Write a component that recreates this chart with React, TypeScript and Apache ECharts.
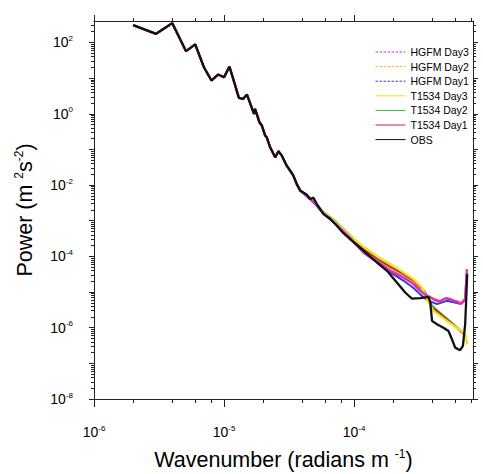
import React, { useEffect, useRef } from "react";
import * as echarts from "echarts";

// ---- data (wavenumber in radians/m, power in m^2 s^-2) ----
// large-scale part where all curves coincide with OBS
const sharedK = [2.0e-6, 3.0e-6, 4.0e-6, 5.1e-6, 6.0e-6, 7.0e-6, 8.0e-6, 9.0e-6, 1.0e-5, 1.1e-5, 1.3e-5, 1.4e-5, 1.5e-5, 1.7e-5, 1.73e-5, 1.87e-5, 1.95e-5, 2.07e-5, 2.13e-5, 2.26e-5, 2.47e-5, 2.62e-5, 2.78e-5, 3.03e-5, 3.22e-5, 3.41e-5, 3.62e-5, 3.85e-5];
const sharedP = [306, 175, 348, 57, 88, 20.2, 8.6, 12.6, 10.6, 21.2, 2.8, 2.6, 3.46, 0.99, 1.37, 0.58, 0.47, 0.244, 0.219, 0.115, 0.06, 0.0885, 0.067, 0.035, 0.0254, 0.0184, 0.0107, 0.007];

const obsK = [4.33e-5, 4.59e-5, 4.87e-5, 5.17e-5, 5.81e-5, 6.54e-5, 7.36e-5, 8.28e-5, 9.31e-5, 1.18e-4, 1.5e-4, 1.79e-4, 2.13e-4, 2.47e-4, 2.78e-4, 3.22e-4, 3.73e-4, 3.85e-4, 3.97e-4, 4.33e-4, 4.86e-4, 5.31e-4, 5.65e-4, 5.98e-4, 6.53e-4, 6.86e-4, 7.14e-4, 7.28e-4, 7.4e-4];
const obsP = [5.37e-3, 4.07e-3, 4.43e-3, 2.94e-3, 1.54e-3, 1.14e-3, 7.24e-4, 4.46e-4, 3.06e-4, 1.44e-4, 6.74e-5, 3.94e-5, 1.85e-5, 9.7e-6, 6.57e-6, 6.74e-6, 7.33e-6, 5.07e-6, 1.55e-6, 1.25e-6, 1.0e-6, 8.1e-7, 4.75e-7, 2.76e-7, 2.33e-7, 3.08e-7, 1.25e-6, 7.0e-6, 3.18e-5];

const t1534d3K = [4.87e-5, 5.81e-5, 7.36e-5, 9.31e-5, 1.18e-4, 1.58e-4, 2.13e-4, 2.86e-4, 3.32e-4, 3.62e-4, 4.07e-4, 5.16e-4, 6.53e-4, 7.14e-4, 7.4e-4];
const t1534d3P = [3.65e-3, 1.71e-3, 8.4e-4, 3.79e-4, 1.86e-4, 8.95e-5, 4.69e-5, 2.3e-5, 1.34e-5, 6.3e-6, 2.97e-6, 1.55e-6, 8.5e-7, 6.6e-7, 3.44e-7];

const t1534d1K = [4.87e-5, 5.81e-5, 7.36e-5, 9.31e-5, 1.18e-4, 1.5e-4, 1.89e-4, 2.39e-4, 3.03e-4, 3.51e-4, 3.97e-4, 5.16e-4, 6.93e-4, 7.2e-4];
const t1534d1P = [3.5e-3, 1.66e-3, 8.0e-4, 3.44e-4, 1.56e-4, 8.4e-5, 5.1e-5, 3.18e-5, 1.67e-5, 9.1e-6, 3.67e-6, 1.73e-6, 6.8e-7, 6.4e-7];

const t1534d2K = [4.87e-5, 5.81e-5, 7.36e-5, 9.31e-5, 1.18e-4, 1.5e-4, 1.89e-4, 2.39e-4, 3.03e-4, 3.51e-4, 3.97e-4, 5.16e-4, 6.93e-4, 7.2e-4];
const t1534d2P = [3.6e-3, 1.77e-3, 9.0e-4, 3.9e-4, 1.68e-4, 8.6e-5, 5.25e-5, 3.3e-5, 1.8e-5, 1.0e-5, 4.1e-6, 1.8e-6, 7.1e-7, 6.6e-7];

const hgfmd3K = [4.87e-5, 5.81e-5, 7.36e-5, 9.31e-5, 1.18e-4, 1.5e-4, 1.89e-4, 2.39e-4, 2.86e-4, 3.22e-4, 3.62e-4, 3.85e-4, 4.07e-4, 4.33e-4, 4.59e-4, 4.86e-4, 5.16e-4, 5.48e-4, 5.81e-4, 6.16e-4, 6.53e-4, 6.72e-4, 7.14e-4, 7.36e-4];
const hgfmd3P = [3.4e-3, 1.6e-3, 7.6e-4, 3.3e-4, 1.29e-4, 7.2e-5, 3.94e-5, 2.55e-5, 1.67e-5, 1.08e-5, 7.8e-6, 7.0e-6, 6.3e-6, 5.66e-6, 5.4e-6, 6.3e-6, 6.6e-6, 6.3e-6, 5.66e-6, 5.4e-6, 4.75e-6, 4.75e-6, 6.3e-6, 4.4e-5];

const hgfmd2K = [4.87e-5, 5.81e-5, 7.36e-5, 9.31e-5, 1.18e-4, 1.5e-4, 1.89e-4, 2.39e-4, 2.86e-4, 3.22e-4, 3.62e-4, 4.07e-4, 4.59e-4, 5.16e-4, 5.81e-4, 6.53e-4, 7.14e-4, 7.33e-4];
const hgfmd2P = [3.5e-3, 1.65e-3, 7.9e-4, 3.4e-4, 1.35e-4, 7.5e-5, 4.3e-5, 2.75e-5, 1.8e-5, 1.17e-5, 8.3e-6, 6.6e-6, 5.8e-6, 6.8e-6, 6.0e-6, 5.1e-6, 6.6e-6, 3.5e-5];

const hgfmd1K = [4.87e-5, 5.81e-5, 7.36e-5, 9.31e-5, 1.18e-4, 1.5e-4, 1.89e-4, 2.39e-4, 2.86e-4, 3.22e-4, 3.62e-4, 4.33e-4, 5.16e-4, 5.81e-4, 6.53e-4, 7.14e-4, 7.3e-4];
const hgfmd1P = [3.3e-3, 1.58e-3, 7.5e-4, 3.2e-4, 1.27e-4, 6.8e-5, 3.6e-5, 2.1e-5, 1.3e-5, 8.6e-6, 6.0e-6, 4.57e-6, 5.66e-6, 5.2e-6, 4.7e-6, 6.0e-6, 2.8e-5];

const legendOrder = ["HGFM Day3", "HGFM Day2", "HGFM Day1", "T1534 Day3", "T1534 Day2", "T1534 Day1", "OBS"];
const legendDashed = [true, true, true, false, false, false, false];

// axis ranges and tick values (exponents of 10)
const X_MIN = 1e-6;
const X_MAX = 8.2e-4;
const Y_MIN = 1e-8;
const Y_MAX = 400;
const xLabelExps = [-6, -5, -4];
const xMinorMult = [2, 4, 6, 8];
const yLabelExps = [2, 0, -2, -4, -6, -8];
const yDecadeExps = [2, 1, 0, -1, -2, -3, -4, -5, -6, -7, -8];
const yMinorMult = [2, 3, 4, 5, 6, 7, 8, 9];

const FONT = "Liberation Sans";

export default function App() {
  const ref = useRef<HTMLDivElement>(null);

  useEffect(() => {
    if (!ref.current) return;
    const chart = echarts.init(ref.current, undefined, { renderer: "svg" });

    const xLo = Math.log10(X_MIN);
    const xHi = Math.log10(X_MAX);
    const yLo = Math.log10(Y_MIN);
    const yHi = Math.log10(Y_MAX);

    const xMinor: number[] = [];
    for (let d = -6; d <= -4; d++) {
      xMinorMult.forEach((m) => {
        const v = d + Math.log10(m);
        if (v > xLo && v < xHi) xMinor.push(v);
      });
    }
    const yMinor: number[] = [];
    for (let d = -8; d <= 2; d++) {
      yMinorMult.forEach((m) => {
        const v = d + Math.log10(m);
        if (v > yLo && v < yHi) yMinor.push(v);
      });
    }

    const supRich = {
      b: { fontSize: 14, lineHeight: 16, fontFamily: FONT, color: "#000" },
      s: { fontSize: 8, lineHeight: 8, verticalAlign: "top", fontFamily: FONT, color: "#000" },
    };
    const nameRich = {
      b: { fontSize: 21.5, lineHeight: 24, fontFamily: FONT, color: "#000" },
      s: { fontSize: 12, lineHeight: 12, verticalAlign: "top", fontFamily: FONT, color: "#000" },
    };
    const fmt = (v: number) => `{b|10}{s|${Math.round(v)}}`;

    const frame = { show: true, onZero: false, lineStyle: { color: "#222", width: 1 } };
    const noLine = { show: false, onZero: false };
    const tickStyle = { color: "#222", width: 1 };

    const tickAxis = (
      pos: string,
      lo: number,
      hi: number,
      ticks: number[],
      len: number,
      labels?: number[],
      margin?: number
    ) => ({
      type: "value",
      position: pos,
      min: lo,
      max: hi,
      axisLine: noLine,
      splitLine: { show: false },
      axisTick: { show: true, inside: false, length: len, customValues: ticks, lineStyle: tickStyle },
      axisLabel: labels
        ? { show: true, customValues: labels, formatter: fmt, rich: supRich, margin: margin }
        : { show: false },
      silent: true,
    });

    const mk = (k1: number[], p1: number[], k2: number[], p2: number[]) =>
      k1.map((k, i) => [k, p1[i]]).concat(k2.map((k, i) => [k, p2[i]]));

    const line = (name: string, data: number[][], color: string, width: number) => ({
      name,
      type: "line",
      xAxisIndex: 0,
      yAxisIndex: 0,
      data,
      symbol: "none",
      showSymbol: false,
      lineStyle: { color, width, type: "solid" },
      itemStyle: { color },
      emphasis: { disabled: true },
    });

    const option = {
      animation: false,
      backgroundColor: "#ffffff",
      grid: { left: 94, top: 21, width: 379, height: 378, containLabel: false, outerBoundsMode: "none" },
      legend: {
        data: legendOrder.map((name, i) => ({
          name,
          lineStyle: { width: 1, type: legendDashed[i] ? [2.5, 1.5] : "solid" },
        })),
        orient: "vertical",
        left: 370,
        top: 41,
        itemWidth: 30,
        itemHeight: 10,
        itemGap: 2.6,
        textStyle: { fontSize: 10.5, fontFamily: FONT, color: "#000", lineHeight: 12 },
        lineStyle: { width: 1 },
        itemStyle: { opacity: 0 },
        selectedMode: false,
      },
      xAxis: [
        {
          type: "log",
          logBase: 10,
          min: X_MIN,
          max: X_MAX,
          position: "bottom",
          axisLine: frame,
          axisTick: { show: false },
          axisLabel: { show: false },
          splitLine: { show: false },
          name: "{b|Wavenumber (radians m }{s|-1}{b|)}",
          nameLocation: "middle",
          nameGap: 49,
          nameTextStyle: { rich: nameRich },
        },
        tickAxis("bottom", xLo, xHi, xLabelExps, 8, xLabelExps, 25),
        tickAxis("bottom", xLo, xHi, xMinor, 4),
        { ...tickAxis("top", xLo, xHi, xLabelExps, 6), axisLine: frame },
        tickAxis("top", xLo, xHi, xMinor, 3),
      ],
      yAxis: [
        {
          type: "log",
          logBase: 10,
          min: Y_MIN,
          max: Y_MAX,
          position: "left",
          axisLine: frame,
          axisTick: { show: false },
          axisLabel: { show: false },
          splitLine: { show: false },
          name: "{b|Power (m }{s|2}{b|s}{s|-2}{b|)}",
          nameLocation: "middle",
          nameGap: 57,
          nameTextStyle: { rich: nameRich },
        },
        tickAxis("left", yLo, yHi, yDecadeExps, 5, yLabelExps, 21),
        tickAxis("left", yLo, yHi, yMinor, 3),
        { ...tickAxis("right", yLo, yHi, yDecadeExps, 5), axisLine: frame },
        tickAxis("right", yLo, yHi, yMinor, 3),
      ],
      series: [
        line("T1534 Day2", mk(sharedK, sharedP, t1534d2K, t1534d2P), "#3cb043", 2),
        line("T1534 Day1", mk(sharedK, sharedP, t1534d1K, t1534d1P), "#c8283c", 2),
        line("HGFM Day1", mk(sharedK, sharedP, hgfmd1K, hgfmd1P), "#3a3ac0", 2),
        line("HGFM Day2", mk(sharedK, sharedP, hgfmd2K, hgfmd2P), "#e8b820", 2),
        line("T1534 Day3", mk(sharedK, sharedP, t1534d3K, t1534d3P), "#f2e21a", 2.3),
        line("HGFM Day3", mk(sharedK, sharedP, hgfmd3K, hgfmd3P), "#d42ad4", 2.3),
        line("OBS", mk(sharedK, sharedP, obsK, obsP), "#111111", 2.3),
      ],
    };

    chart.setOption(option as any);
    return () => chart.dispose();
  }, []);

  return (
    <div
      ref={ref}
      style={{ position: "absolute", left: 0, top: 0, width: 483, height: 474, background: "#fff" }}
    />
  );
}
